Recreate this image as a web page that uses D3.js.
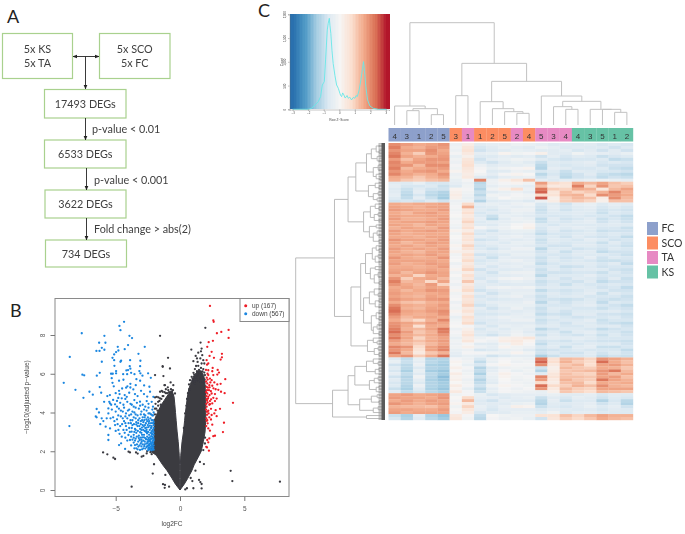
<!DOCTYPE html>
<html><head><meta charset="utf-8">
<script src="https://cdnjs.cloudflare.com/ajax/libs/d3/7.8.5/d3.min.js"></script>
<style>html,body{margin:0;padding:0;background:#fff}svg{display:block}</style></head>
<body><svg id="c" width="685" height="534"></svg>
<script>
// ---------- Panel A ----------
const flowLabels = [["5x KS","5x TA"],["5x SCO","5x FC"],["17493 DEGs"],["6533 DEGs"],["3622 DEGs"],["734 DEGs"]];
const filterLabels = ["p-value < 0.01","p-value < 0.001","Fold change > abs(2)"];

// ---------- Panel B (log2FC, -log10 adjusted p) ----------
const wingLevels = [0,0.3,0.6,1,1.3,1.8,2,2.5,3,3.6,4,4.4,4.8,5.1];
const leftOuter  = [0,-0.35,-0.62,-1,-1.35,-1.85,-2.3,-2.0,-2.0,-2.0,-1.75,-1.45,-1.05,-0.75];
const leftInner  = [0,-0.02,-0.03,-0.03,-0.03,-0.06,-0.08,-0.14,-0.22,-0.3,-0.35,-0.4,-0.46,-0.6];
const rightLevels = [0,0.3,0.6,1,1.3,1.8,2,2.5,3,3.6,4,4.4,4.8,5.2,5.6,5.9,6.15];
const rightOuter = [0,0.33,0.6,0.92,1.1,1.5,1.65,1.82,1.95,2,2,2,2,1.97,1.93,1.85,1.65];
const rightInner = [0,0.02,0.03,0.03,0.03,0.06,0.09,0.16,0.27,0.36,0.42,0.5,0.57,0.68,0.88,1.08,1.4];
const upPoints = [[2.33,9.5],[2.59,8.76],[2.62,8.68],[3.78,8.26],[3.21,8.16],[2.87,8.09],[3.78,7.85],[2.56,7.7],[2.23,7.63],[2.12,7.39],[2.46,7.13],[3.26,7.03],[2.3,6.92],[2.64,6.82],[3.26,6.85],[3.16,6.73],[2.2,6.53],[2.1,6.47],[2.54,6.3],[2.93,6.2],[2.2,6.18],[2.51,6.13],[3.03,6.06],[2.2,5.93],[2.59,5.93],[2.9,5.96],[3.52,5.72],[2.33,5.75],[2.46,5.67],[2.67,5.55],[2.12,5.5],[2.9,5.45],[3.16,5.48],[2.28,5.41],[2.51,5.38],[2.07,5.32],[2.77,5.2],[2.25,5.15],[2.98,5.17],[3.47,5],[3.19,5.07],[2.12,4.98],[2.46,4.98],[2.72,4.95],[2.2,4.81],[2.59,4.76],[2.85,4.72],[2.07,4.69],[2.33,4.59],[2.72,4.59],[4.12,4.5],[2.15,4.52],[2.51,4.47],[2.28,4.4],[2.07,4.3],[2.41,4.19],[2.77,4.12],[2.2,4.09],[3.11,4.19],[2.67,3.95],[2.1,3.88],[2.28,3.75],[2.41,3.64],[2.07,3.57],[3.42,3.47],[2.51,3.37],[2.04,3.3],[2.2,3.18],[2.33,3.06],[3.34,2.99],[2.72,2.8],[2.59,2.78],[2.28,2.66],[2.12,2.58],[2.2,2.46],[2.04,2.23],[2.25,2.03],[2.1,2.2],[2.46,3.87],[2.1,4.04],[2.33,4.43],[2.85,3.81],[2.15,3.44],[2.03,5.05],[2.06,4.85],[2.1,4.62],[2.17,5.28],[2.03,5.6],[2.08,5.8],[2.14,6.0],[2.4,5.1],[2.6,5.25],[2.3,4.9],[2.02,4.15],[2.05,3.7],[2.12,3.6],[2.22,3.95],[2.36,5.55],[2.02,6.2],[2.07,6.7],[2.05,4.45],[2.18,4.72],[2.1,5.15],[2.15,5.7],[2.3,5.3],[2.42,4.68]];
const downPoints = [[-4.35,8.68],[-4.71,8.47],[-4.63,8.25],[-7.64,8.09],[-5.88,7.96],[-3.93,7.96],[-3.73,7.84],[-6.29,7.6],[-5.8,7.6],[-4.04,7.48],[-4.84,7.39],[-2.74,7.39],[-6.08,7.34],[-5.88,7.24],[-6.5,7.18],[-6.26,7.18],[-4.79,7.2],[-4.3,7.27],[-4.97,7.12],[-5.12,7],[-8.57,6.87],[-5.25,6.82],[-3.23,7.03],[-5.12,6.7],[-4.58,6.67],[-4.63,6.62],[-6.08,6.62],[-3.88,6.7],[-3.08,6.67],[-5.1,6.41],[-3.91,6.39],[-3.1,6.39],[-4.04,6.19],[-4.17,6.17],[-3.86,6.26],[-4.97,6.14],[-3.16,6.14],[-6.24,6.05],[-7.59,5.95],[-6.47,5.9],[-5.36,6],[-5.23,6],[-4.97,6.02],[-4.42,5.98],[-4.11,5.98],[-3.8,6.05],[-3.54,5.98],[-3.08,6.02],[-2.92,5.9],[-2.48,6.02],[-2.27,5.79],[-5.31,5.77],[-3.39,5.72],[-4.74,5.64],[-4.4,5.69],[-5.25,5.53],[-3.1,5.64],[-9.04,5.53],[-3.86,5.48],[-5.15,5.35],[-4.09,5.35],[-6.24,5.31],[-3.44,5.41],[-2.79,5.4],[-2.38,5.33],[-4.5,5.24],[-4.19,5.28],[-3.86,5.29],[-3.63,5.19],[-8.13,5.17],[-4.74,5.12],[-7.04,5.07],[-6.13,5.02],[-3.03,5.12],[-2.33,5.07],[-6.78,4.92],[-5.45,4.9],[-5.0,5.0],[-4.7,4.95],[-4.3,4.9],[-3.95,5.02],[-3.5,4.95],[-3.3,4.85],[-2.8,4.95],[-2.55,4.82],[-7.51,4.76],[-6.48,4.18],[-6.55,3.8],[-6.48,3.75],[-6.09,3.7],[-5.57,4.21],[-5.44,4.47],[-5.05,4.42],[-4.53,4.73],[-4.14,4.81],[-3.55,4.64],[-3.11,4.56],[-2.59,4.59],[-2.07,4.81],[-5.57,3.95],[-5.7,3.7],[-5.96,3.56],[-5.78,3.27],[-5.44,3.18],[-5.57,2.84],[-5.57,2.58],[-4.74,2.32],[-4.58,2.41],[-4.27,2.12],[-5.05,3.35],[-4.79,3.1],[-4.53,2.75],[-4.01,2.84],[-3.76,3.01],[-3.89,2.58],[-3.5,2.32],[-3.55,2.15],[-3.24,2.24],[-3.11,2.07],[-2.98,2.49],[-8.6,3.3],[-7.45,5.92],[-5.9,4.55],[-5.5,4.55],[-5.2,4.65],[-4.9,4.6],[-4.65,4.5],[-4.4,4.4],[-4.1,4.55],[-3.85,4.45],[-3.6,4.3],[-3.35,4.5],[-2.9,4.4],[-2.7,4.3],[-2.45,4.45],[-2.2,4.55],[-5.3,4.15],[-5.0,4.05],[-4.75,4.2],[-4.45,4.05],[-4.2,3.95],[-3.95,4.15],[-3.7,4.05],[-3.45,3.9],[-3.2,4.2],[-3,4.05],[-2.8,3.9],[-2.6,4.1],[-2.35,3.95],[-2.15,4.15],[-5.2,3.75],[-4.9,3.65],[-4.6,3.8],[-4.35,3.55],[-4.1,3.7],[-3.85,3.6],[-3.6,3.75],[-3.4,3.5],[-3.15,3.7],[-2.95,3.6],[-2.75,3.75],[-2.55,3.55],[-2.3,3.7],[-2.1,3.6],[-5.0,3.05],[-4.65,3.3],[-4.4,3.1],[-4.2,3.3],[-3.95,3.2],[-3.7,3.35],[-3.5,3.15],[-3.3,3.3],[-3.1,3.15],[-2.9,3.35],[-2.7,3.2],[-2.5,3.35],[-2.25,3.2],[-2.05,3.35],[-3.6,2.85],[-3.4,2.95],[-3.2,2.8],[-3,2.95],[-2.8,2.85],[-2.6,2.98],[-2.4,2.85],[-2.2,3.0],[-2.05,2.85],[-3.7,2.6],[-3.45,2.65],[-3.25,2.5],[-3.05,2.7],[-2.85,2.55],[-2.7,2.68],[-2.5,2.6],[-2.35,2.72],[-2.18,2.65],[-2.05,2.55],[-3.3,2.1],[-3,2.25],[-2.85,2.15],[-2.75,2.35],[-2.6,2.22],[-2.5,2.42],[-2.4,2.08],[-2.4,2.3],[-2.3,2.5],[-2.3,2.15],[-2.2,2.35],[-2.2,2.05],[-2.12,2.2],[-2.12,2.45],[-2.05,2.08],[-2.05,2.3],[-2.5,2.05],[-2.42,2.2],[-2.32,2.4],[-2.25,2.25],[-2.15,2.12],[-2.08,2.42],[-2.28,2.62],[-2.15,2.75],[-2.42,2.52],[-2.55,2.75],[-2.08,2.7],[-2.2,2.9],[-2.1,3.1],[-2.35,3.1],[-2.6,3.1],[-2.05,3.5],[-2.15,3.85],[-2.25,3.45],[-2.45,3.65],[-2.65,3.45],[-2.85,3.5],[-3.05,3.4],[-3.25,3.45],[-2.45,3.25],[-2.75,3.05],[-3,3.1],[-2.05,4.0],
[-2.08,2.18],[-2.18,2.28],[-2.28,2.08],[-2.36,2.18],[-2.46,2.14],[-2.14,2.52],[-2.24,2.42],[-2.36,2.36],[-2.46,2.32],[-2.54,2.26],[-2.62,2.4],[-2.7,2.14],[-2.78,2.26],[-2.9,2.36],[-2.95,2.1],[-3.05,2.4],[-3.15,2.3],[-3.35,2.35],[-3.4,2.15],[-3.6,2.45],[-3.8,2.3],[-2.06,2.62],[-2.14,2.88],[-2.24,2.78],[-2.34,2.58],[-2.44,2.68],[-2.52,2.5],[-2.64,2.62],[-2.74,2.5],[-2.8,2.72],[-2.92,2.72],[-3.0,2.6],[-3.14,2.58],[-3.2,2.68],[-3.36,2.75],[-3.5,2.55],[-3.6,2.7],[-3.8,2.75],[-4.1,2.55],[-4.25,2.7],[-2.06,2.98],[-2.16,3.06],[-2.3,2.95],[-2.48,3.0],[-2.56,2.92],[-2.68,3.02],[-2.86,3.1],[-2.95,2.85],[-3.1,2.98],[-3.28,3.05],[-3.45,3.1],[-3.55,3.0],[-3.75,3.2],[-3.9,3.0],[-4.15,3.1],[-4.3,2.95],[-4.7,2.9],[-2.06,3.2],[-2.2,3.3],[-2.34,3.32],[-2.42,3.45],[-2.58,3.22],[-2.72,3.35],[-2.82,3.28],[-2.96,3.22],[-3.16,3.3],[-3.4,3.38],[-3.58,3.4],[-3.82,3.45],[-4.0,3.45],[-4.25,3.45],[-4.5,3.4],[-4.85,3.4],[-2.1,3.45],[-2.2,3.6],[-2.4,3.55],[-2.5,3.75],[-2.62,3.65],[-2.78,3.6],[-2.9,3.75],[-3.05,3.55],[-3.25,3.6],[-3.45,3.7],[-3.7,3.6],[-3.95,3.85],[-4.25,3.8],[-4.45,3.7],[-4.8,3.85],[-5.1,3.55],[-2.1,3.85],[-2.25,3.9],[-2.45,3.95],[-2.7,3.85],[-3.05,3.9],[-3.3,3.85],[-3.55,4.0],[-3.8,3.9],[-4.05,4.1],[-4.35,4.25],[-4.6,4.1],[-4.9,4.3],[-5.4,3.7],[-5.35,4.4],[-2.1,4.3],[-2.45,4.25],[-2.8,4.15],[-3.1,4.35],[-3.45,4.25],[-3.75,4.4],[-4.25,4.7],[-4.8,4.75],[-5.65,4.85],[-6.3,4.0],[-6.2,3.4]];
const otherPoints = [[1.97,8.37],[1.6,7.61],[0.88,7.25],[1.68,7.3],[1.63,7.16],[1.42,7.09],[1.22,6.92],[1.73,6.96],[1.32,6.79],[1.58,6.79],[1.81,6.7],[1.37,6.61],[1.04,6.65],[1.68,6.53],[1.89,6.53],[1.42,6.41],[1.63,6.3],[1.16,6.24],[1.81,6.24],[1.32,6.13],[1.55,6.06],[1.89,6.06],[1.11,5.96],[1.37,5.93],[1.68,5.93],[1.94,5.93],[0.91,5.84],[1.22,5.79],[1.53,5.75],[1.81,5.75],[0.78,5.67],[1.04,5.62],[1.29,5.58],[1.63,5.55],[1.89,5.55],[0.7,5.45],[1.25,6.4],[1.48,6.2],[1.05,6.05],[1.75,6.12],[1.5,5.95],[0.98,5.75],[1.15,5.5],[1.42,5.72],[1.72,5.78],[1.92,5.7],[1.98,5.35],[0.72,5.2],[0.62,5.0],[0.55,4.7],[0.5,4.35],[0.4,3.95],[0.3,3.2],[3.94,0.99],[4.07,0.46],[7.77,0.43],[1.86,1.34],[1.48,0.52],[1.58,0.41],[0.83,0.62],[0.96,0.46],[1.68,0.31],[0.54,0.09],[0.41,0.03],[1.04,0.09],[1.68,0.08],[1.94,2.4],[1.81,2.06],[1.95,2.7],[1.55,1.45],[1.2,1.0],
[-5.98,1.94],[-5.65,1.84],[-5.18,1.67],[-5.05,1.6],[-4,1.98],[-3.89,1.94],[-3.42,1.94],[-3.29,1.88],[-2.85,1.76],[-2.98,1.72],[-2.59,1.89],[-2.02,1.33],[-2.12,0.85],[-1.14,0.78],[-3.76,0.17],[-1.32,0.3],[-1.19,0.11],[-0.85,0.17],[-1.17,0.26],[-1.55,7.96],[-1.34,6.36],[-1.94,5.93],[-1.29,5.88],[-1.42,5.12],[-1.21,5.41],[-1.68,4.78],[-1.29,4.85],[-1.94,4.78],[-1.55,4.73],[-0.93,6.82],[-0.78,6.27],[-1.35,6.39],[-0.73,5.55],[-1.17,5.41],[-0.52,5.41],[-0.91,5.15],[-0.64,5.07],[-1.35,5.07],[-1.55,5.07],[-0.39,4.98],[-0.57,4.9],[-1.81,4.81],[-0.78,4.81],[-1.1,5.2],[-1.0,5.0],[-1.7,4.55],[-1.9,4.45],[-1.95,4.2],[-2.3,1.95],[-2.55,2.0],[-2.2,1.85],[-1.85,4.2],[-1.7,4.35],[-1.6,4.6],[-1.45,4.7],[-1.2,5.05],[-0.95,5.3],[-0.7,5.2],[-0.55,5.15],[-1.5,4.4],[-1.75,4.1],[-1.35,4.85],[-1.1,5.0],[-0.85,5.05],[-1.95,3.9]];
const volcanoLegend = ["up (167)","down (567)"];

// ---------- Panel C : heat map ----------
const groupNames = ["FC","SCO","TA","KS"];
const columnGroups = ["FC","FC","FC","FC","FC","SCO","TA","SCO","SCO","SCO","TA","SCO","TA","TA","TA","KS","KS","KS","KS","KS"];
const columnLabels = ["4","3","1","2","5","3","1","1","2","5","2","4","5","3","4","4","3","5","1","2"];
const histX = [-3,-1.99,-1.78,-1.56,-1.35,-1.2,-1.09,-0.96,-0.88,-0.77,-0.71,-0.64,-0.6,-0.54,-0.47,-0.39,-0.28,-0.17,-0.06,0.04,0.09,0.15,0.22,0.3,0.37,0.43,0.5,0.58,0.68,0.79,0.9,1.01,1.08,1.16,1.28,1.39,1.5,1.56,1.63,1.71,1.82,1.97,2.18,2.51,3.04];
const histCount = [0,0,21,91,161,267,512,583,1039,1671,1811,1916,1769,1594,1243,962,716,512,442,337,290,267,345,302,240,253,290,232,255,197,250,232,290,267,407,618,863,1004,793,477,197,70,21,0,0];
// merge trees: [height, left, right]; a number is a leaf holding that many rows/columns
const colTree = [307,[57,1,[49,[43,1,1],[31,1,1]]],[185,[88,1,1],[131,[70,1,[49,1,[40,1,[35,1,1]]]],[87,1,[71,[55,1,[47,1,1]],[47,1,[47,1,[38,1,1]]]]]]]];
const rowClusterA = [16,[11,[6,2,[3,1,1]],[5,1,2]],[9,[4,1,2],[6,1,[2,1,1]]]];
const rowClusterB = [14,[7,1,[3,1,1]],[9,[4,1,1],[5,1,1]]];
const rowClusterC1 = [19,[12,[7,1,[3,1,1]],[8,[4,1,1],2]],[13,[6,1,1],[9,[5,1,2],[3,1,1]]]];
const rowClusterC2 = [17,[10,[6,1,[3,1,1]],[7,[4,1,1],2]],[12,[7,1,1],[8,[4,1,2],[3,1,1]]]];
const rowClusterC3 = [19,[13,[8,2,[4,1,1]],[7,[3,1,1],2]],[11,[6,2,[3,1,1]],[9,[5,2,1],[3,1,1]]]];
const rowClusterC4 = [15,[9,1,[5,1,1]],[8,[4,1,1],[3,1,1]]];
const rowClusterD = [28,[16,[9,1,[4,1,1]],[7,[3,1,1],1]],[13,[8,[4,1,1],1],[6,[3,1,1],1]]];
const rowClusterE = [23,[11,[5,1,1],[3,1,1]],[9,[4,1,1],1]];
const rowClusterF = [16,1,1];
const rowTree = [89,[49,[35,[27,rowClusterA,rowClusterB],rowClusterC1],[32,[22,rowClusterC2,rowClusterC3],rowClusterC4]],[51,[35,rowClusterD,rowClusterE],rowClusterF]];
// z-scores x10, one row per line, columns in dendrogram order
const rowsA = [
[19,17,15,16,18,-3,3,-6,-5,-5,-3,-4,-5,-7,-6,-7,-6,-8,-7,-8],
[21,15,14,17,17,-2,5,-8,-6,-4,-5,-6,-3,-5,-7,-6,-7,-7,-9,-7],
[18,16,16,19,15,-3,6,-9,-7,-6,-4,-5,-6,-6,-5,-8,-6,-9,-6,-9],
[20,14,10,18,16,-1,4,-5,-4,1,-2,-1,2,-6,-6,-2,-5,-5,-6,-4],
[22,16,14,15,17,-4,2,-7,-7,-5,-6,-5,-9,-5,-8,-6,-7,-10,-8,-7],
[17,12,16,18,18,-2,5,-9,-5,-4,-2,-3,-6,-8,-9,-8,-8,-7,-11,-10],
[20,15,17,17,16,-3,6,-7,-9,-6,-4,-6,-10,-6,-7,-6,-5,-8,-7,-8],
[19,18,13,19,19,-1,7,-3,-6,-5,-5,-4,-12,-7,-8,-7,-6,-9,-9,-9],
[21,13,15,16,17,-2,5,-1,-4,-2,-1,1,-13,-5,-6,-8,-8,-7,-10,-11],
[18,15,17,18,15,1,4,0,-7,-6,-3,-4,-8,-7,-10,-6,-7,-8,-8,-9],
[20,16,14,15,18,-3,3,-2,-5,-1,1,0,-12,-8,-11,-9,-6,-10,-11,-12],
[15,14,11,14,16,-2,4,-6,-8,-5,-4,-3,-9,-6,-12,-9,-8,-11,-9,-10],
[14,11,10,12,13,-4,-1,20,-3,2,5,12,-5,-7,-5,-5,-4,-3,-4,-5]];
const rowsB = [
[-6,-7,-4,-8,-8,-5,-3,-12,-3,-1,1,-2,17,8,6,15,13,16,12,10],
[-5,-8,-8,-7,-10,-7,-2,-11,-5,-3,-4,-5,12,4,5,21,9,18,11,12],
[-7,-10,-6,-9,-9,1,-1,-13,-2,2,7,-3,22,10,9,15,14,5,13,16],
[-6,-11,-5,-11,-13,2,-2,-10,-6,-4,-3,-5,24,5,12,9,11,14,20,14],
[-5,-12,-8,-12,-14,3,-3,-12,-2,-3,-1,-2,8,6,13,14,8,19,17,15],
[-7,-11,-5,-10,-15,2,-4,-9,-4,0,-2,-3,25,2,10,13,12,3,19,13],
[-9,-8,-9,-7,-9,-3,-3,-13,-7,-6,-5,-7,-3,3,10,11,9,2,12,12]];
const rowsC = [
[15,14,15,15,16,-2,8,-5,-4,-5,-3,-2,-8,-6,-9,-5,-4,-7,-5,-6],
[16,15,14,16,16,-1,14,-7,-6,-4,-5,-4,-9,-5,-8,-6,-5,-8,-6,-8],
[17,16,15,15,17,-2,5,-6,-8,-5,-3,-3,-10,-6,-9,-7,-6,-9,-8,-9],
[15,13,16,17,15,-1,7,-8,-6,-6,-4,-5,-9,-7,-7,-6,-7,-10,-7,-8],
[16,15,15,16,16,0,4,-7,-10,-4,-5,-6,-8,-8,-8,-7,-8,-8,-9,-11],
[17,14,14,15,17,-2,6,-5,-12,-6,-3,-4,-11,-6,-9,-8,-6,-10,-8,-10],
[15,16,16,17,16,-1,9,-7,-5,-5,-4,-3,-10,-7,-8,-6,-5,-9,-7,-9],
[16,15,13,16,15,-2,5,-6,-7,-4,-1,1,-7,-8,-6,-7,-7,-7,-6,-7],
[14,16,15,14,17,-3,7,-1,-4,-3,0,2,-8,-5,-7,-5,-6,-8,-8,-10],
[17,15,16,17,16,1,3,-7,-9,-5,-4,-4,-9,-6,-9,-8,-7,-10,-9,-9],
[16,14,15,15,15,-2,8,-8,-6,-6,-5,-6,-11,-8,-8,-7,-6,-8,-7,-8],
[15,15,14,16,16,0,5,-5,-7,-4,-3,-5,-8,-7,-9,-6,-8,-9,-8,-11],
[18,16,16,15,17,-1,6,-9,-8,-5,-6,-5,-10,-6,-7,-8,-5,-7,-9,-8],
[16,13,15,17,16,-2,4,-6,-5,-7,-4,-4,-9,-7,-8,-7,-7,-10,-6,-9],
[15,16,14,16,15,1,9,-8,-7,-5,-5,-6,-8,-9,-9,-6,-6,-8,-8,-10],
[17,15,16,15,17,-1,6,-7,-9,-6,-3,-3,-12,-7,-7,-9,-8,-9,-7,-8],
[16,14,13,16,16,2,3,-5,-6,-4,-5,-5,-9,-6,-10,-7,-6,-11,-9,-9],
[15,16,15,17,15,-2,7,-9,-8,-7,-4,-4,-8,-8,-8,-6,-7,-7,-8,-10],
[18,15,14,15,18,-1,5,-6,-10,-5,-6,-6,-10,-7,-9,-8,-5,-9,-7,-8],
[16,16,16,16,15,0,8,-8,-7,-4,-3,-5,-9,-6,-8,-7,-8,-10,-10,-9],
[17,14,15,17,16,-3,4,-7,-5,-6,-5,-4,-11,-8,-7,-6,-6,-8,-6,-11],
[15,15,14,15,17,-1,6,-5,-8,-5,-4,-6,-8,-7,-10,-9,-7,-9,-8,-8],
[16,16,15,16,15,1,9,-9,-6,-7,-6,-5,-10,-6,-8,-6,-6,-7,-9,-10],
[17,13,16,18,16,-2,3,-6,-9,-4,-3,-3,-9,-9,-9,-8,-8,-10,-7,-9],
[14,15,9,15,16,0,7,-7,-7,-6,-5,-4,-12,-7,-7,-7,-5,-8,-8,-8],
[18,10,15,16,13,-2,5,-8,-5,-2,-1,-3,-8,-6,-9,-6,-7,-9,-6,-10],
[21,13,14,8,16,-1,11,-5,-8,-5,-4,-5,-10,-8,-8,-9,-6,-11,-9,-9],
[18,15,13,17,9,-3,4,-6,-6,-7,-6,-6,-9,-7,-10,-7,-8,-8,-7,-8],
[15,16,14,16,15,-1,6,-7,-3,-2,-3,-2,-7,-6,-7,-6,-7,-9,-8,-11],
[16,13,15,18,17,1,8,-9,-7,-5,-5,-5,-11,-8,-9,-8,-6,-7,-9,-9],
[17,15,14,15,16,-2,3,-5,-9,-6,-4,-4,-8,-6,-8,-7,-5,-10,-6,-8],
[16,14,13,16,15,-1,7,-8,-6,-4,-3,-6,-10,-7,-7,-6,-8,-8,-8,-10],
[18,16,15,17,18,0,5,-6,-8,-7,-6,-5,-9,-9,-10,-9,-7,-9,-10,-9],
[15,12,11,14,15,-3,6,-7,-5,-5,-5,-3,-12,-7,-9,-7,-6,-11,-7,-8],
[19,15,14,15,17,-1,9,-9,-7,-4,-4,-4,-8,-8,-8,-6,-5,-8,-9,-11],
[22,14,13,16,16,-2,4,-5,-9,-6,-3,-6,-10,-6,-7,-8,-8,-10,-8,-9],
[23,16,15,17,19,1,6,-7,-6,-5,-6,-5,-9,-7,-9,-7,-7,-7,-6,-8],
[20,15,14,15,18,-1,3,-8,-8,-7,-5,-4,-11,-9,-10,-6,-6,-9,-9,-10],
[17,13,15,16,15,-4,7,-6,-5,-3,-4,-5,-8,-6,-8,-9,-8,-8,-7,-9],
[15,11,8,14,20,-2,5,-7,-7,-5,-3,-3,-10,-8,-7,-7,-5,-10,-8,-8],
[18,16,14,17,16,-1,8,-9,-6,-6,-6,-6,-9,-7,-9,-6,-7,-9,-10,-11],
[19,15,7,15,15,0,-1,-5,-8,-4,-5,-4,-7,-6,-8,-8,-6,-7,-6,-9],
[21,14,13,16,22,-3,2,-8,-5,-7,-4,-5,-12,-9,-7,-7,-8,-11,-9,-8],
[23,17,11,14,21,-1,4,-6,-7,-5,-3,-6,-8,-7,-10,-6,-5,-8,-8,-10],
[19,15,13,15,18,-2,6,-7,-9,-6,-2,-4,-10,-6,-8,-9,-7,-10,-7,-9],
[22,16,9,14,16,-4,3,-3,-1,2,3,5,-6,-5,-6,-5,-6,-8,-8,-8],
[17,14,12,15,17,-2,5,-1,-3,3,4,1,-9,-8,-9,-7,-8,-9,-9,-10],
[15,13,10,13,16,-3,-1,-6,-6,-2,3,-1,-11,-7,-7,-8,-6,-7,-6,-9],
[20,18,8,16,19,-2,2,-3,-5,1,-2,-3,-8,-6,-10,-6,-5,-10,-10,-8],
[18,15,6,16,20,-4,-3,-8,-7,-4,-3,-6,-10,-9,-8,-7,-8,-8,-8,-11],
[22,13,4,11,14,-5,-1,-1,-2,-3,1,-2,-9,-7,-9,-9,-6,-9,-7,-9],
[16,18,10,15,22,-6,-4,-5,-9,-7,-5,-5,-14,-10,-8,-8,-7,-11,-9,-10]];
const rowsD = [
[-7,-11,-4,-13,-13,-1,-3,-8,-3,-1,-2,-3,21,6,13,12,9,18,16,14],
[-4,-10,-5,-12,-14,1,-2,-11,-4,0,-3,-2,24,7,14,10,8,23,15,12],
[-9,-12,-3,-14,-15,0,-4,-8,-1,1,-1,-1,19,4,11,13,7,16,17,14],
[-6,-12,-7,-13,-14,2,-1,-13,-6,-3,-2,-3,-9,2,13,11,10,15,14,11],
[-8,-14,-4,-15,-16,0,-3,-11,-5,-1,-4,-2,-13,3,11,12,13,18,22,13],
[-5,-11,-6,-12,-15,3,-2,-14,-3,2,-1,-3,-6,5,12,10,9,17,13,15],
[-9,-13,-2,-13,-17,1,-1,-10,-4,1,-2,-1,20,6,12,12,11,16,17,12],
[-6,-12,-5,-14,-16,2,-3,-13,-5,0,-3,-2,17,4,14,11,10,22,16,14],
[-8,-12,-7,-13,-15,0,-2,-11,-6,-1,-2,-3,8,3,12,13,8,15,14,15],
[-7,-13,-3,-13,-15,3,-1,-9,-2,1,-1,-2,23,8,10,14,12,19,14,13],
[-10,-14,-6,-14,-16,1,-4,-12,-5,-1,-3,-1,18,4,13,10,9,16,16,16],
[-6,-11,-8,-12,-14,4,-1,-10,-4,-1,-2,-3,-4,2,11,9,7,13,12,11]];
const rowsE = [
[16,17,15,16,17,-2,-1,-4,-8,-6,-5,-5,-5,-4,-6,-6,-5,-8,-6,-7],
[17,16,16,15,18,0,8,-5,-5,-7,-5,-4,-10,-6,-8,-5,-6,-9,-7,-8],
[15,17,15,17,16,-1,13,-7,-9,-5,-6,-6,-12,-5,-10,-7,-7,-13,-8,-12],
[18,16,14,16,17,1,4,-6,-6,-6,-4,-3,-13,-6,-7,-6,-5,-9,-7,-13],
[14,13,13,12,15,-2,9,-4,-7,-4,2,1,-10,-7,-8,-6,-4,-7,-5,-9],
[16,16,15,15,17,0,5,-5,-8,-5,-5,-5,-7,-5,-6,-7,-6,-8,-6,-7],
[17,15,16,16,16,-1,3,-8,-6,-6,-4,-4,-5,-2,-7,-5,-5,-7,-7,-7]];
const rowsF = [
[-10,-14,-5,-13,-16,4,-1,-11,0,-2,-3,-3,6,6,12,9,13,16,14,14],
[-8,-13,-6,-12,-15,5,-2,-12,-1,-3,-2,-4,-9,5,10,8,11,15,13,12]];
const heatRows = rowsA.concat(rowsB, rowsC, rowsD, rowsE, rowsF);

// ---------- colours ----------
const rdbu = ["#2a70ae","#4f9ac6","#a5cde2","#dce9f2","#f6f5f4","#fbdfcf","#f2ab8c","#dc7458","#b2182b"];
const heatColor = d3.scaleLinear().domain(d3.range(-3,3.01,0.75)).range(rdbu).clamp(true);
const groupColor = d3.scaleOrdinal(groupNames,["#8da0cb","#fc8d62","#e78ac3","#66c2a5"]);

const svg = d3.select("#c");
const defs = svg.append("defs");
defs.append("filter").attr("id","soft").attr("x","-5%").attr("y","-5%").attr("width","110%").attr("height","110%").append("feGaussianBlur").attr("stdDeviation",0.35);
defs.append("filter").attr("id","softer").attr("x","-5%").attr("y","-5%").attr("width","110%").attr("height","110%").append("feGaussianBlur").attr("stdDeviation",0.6);
const sans = "'Liberation Sans',Arial,sans-serif", flowFont = "Lato,'Open Sans',sans-serif";
const panel = (t,x,y)=>svg.append("text").attr("x",x).attr("y",y).attr("font-family",flowFont).attr("font-size",18).attr("fill","#222").text(t);
panel("A",7,23); panel("B",10,317); panel("C",258,17);

// ---------- A ----------
const boxes=[[2.5,33.5,70,45],[99.5,33.5,70.5,45],[44.5,89.5,81.5,28.5],[44.5,140,81.5,28],[45,190,81,28],[45.5,240,81,27]];
const gA=svg.append("g").attr("filter","url(#soft)");
defs.append("marker").attr("id","ah").attr("viewBox","0 0 6 6").attr("refX",5.5).attr("refY",3)
 .attr("markerWidth",5).attr("markerHeight",5).attr("orient","auto-start-reverse")
 .append("path").attr("d","M0,0.5L6,3L0,5.5Z").attr("fill","#222");
boxes.forEach((b,i)=>{
 gA.append("rect").attr("x",b[0]).attr("y",b[1]).attr("width",b[2]).attr("height",b[3])
  .attr("fill","#fff").attr("stroke","#a9d18e").attr("stroke-width",1.2);
 const L=flowLabels[i];
 L.forEach((t,j)=>gA.append("text").attr("x",b[0]+b[2]/2).attr("y",b[1]+b[3]/2+4+(j-(L.length-1)/2)*14)
  .attr("text-anchor","middle").attr("font-family",flowFont).attr("font-size",10.8).attr("fill","#404040").text(t));
});
const arrow=(x1,y1,x2,y2,both)=>{const l=gA.append("line").attr("x1",x1).attr("y1",y1).attr("x2",x2).attr("y2",y2)
  .attr("stroke","#222").attr("stroke-width",0.9).attr("marker-end","url(#ah)"); if(both)l.attr("marker-start","url(#ah)");};
arrow(73,56.5,99,56.5,true); arrow(85.5,56.5,85.5,89);
arrow(85.5,118,85.5,140); arrow(86.5,168,86.5,190); arrow(86.5,218,86.5,240);
[[92,129],[94,179.5],[94,229]].forEach((p,i)=>gA.append("text").attr("x",p[0]).attr("y",p[1]+4)
  .attr("font-family",flowFont).attr("font-size",10.8).attr("fill","#404040").text(filterLabels[i]));

// ---------- B ----------
const vx=d3.scaleLinear().domain([-5,5]).range([115.7,244.3]);
const vy=d3.scaleLinear().domain([0,8]).range([490,335]);
const gB=svg.append("g").attr("filter","url(#soft)");
const area=d3.area().y(d=>vy(d[0])).x0(d=>vx(d[1])).x1(d=>vx(d[2]));
gB.append("path").attr("d",area(wingLevels.map((l,i)=>[l,leftOuter[i],leftInner[i]]))).attr("fill","#3a3a40").attr("stroke","#3a3a40").attr("stroke-width",1);
gB.append("path").attr("d",area(rightLevels.map((l,i)=>[l,rightOuter[i],rightInner[i]]))).attr("fill","#3a3a40").attr("stroke","#3a3a40").attr("stroke-width",1);
const dots=(pts,c)=>gB.append("g").selectAll("circle").data(pts).join("circle")
  .attr("cx",d=>vx(d[0])).attr("cy",d=>vy(d[1])).attr("r",1.15).attr("fill",c);
dots(otherPoints,"#3a3a40"); dots(downPoints,"#1a86e0"); dots(upPoints,"#ee1c25");
gB.append("rect").attr("x",55).attr("y",298.5).attr("width",234).attr("height",198).attr("fill","none").attr("stroke","#8a8a8a").attr("stroke-width",1);
const xA=d3.axisBottom(vx).tickValues([-5,0,5]).tickSize(4.5).tickPadding(5).tickFormat(d=>d<0?"\u2212"+(-d):d);
const yA=d3.axisLeft(vy).tickValues([0,2,4,6,8]).tickSize(4.5);
const gx=gB.append("g").attr("transform","translate(0,496.5)").call(xA);
const gy=gB.append("g").attr("transform","translate(55,0)").call(yA);
[gx,gy].forEach(g=>{g.select(".domain").remove();g.selectAll("line").attr("stroke","#777");
 g.selectAll("text").attr("font-family",sans).attr("font-size",6.5).attr("fill","#555");});
gy.selectAll("text").attr("text-anchor","middle").attr("x",-10).attr("dy",0).attr("transform","rotate(-90,-10,0)");
gB.append("text").attr("x",172).attr("y",526).attr("text-anchor","middle").attr("font-family",sans).attr("font-size",6.5).attr("fill","#444").text("log2FC");
gB.append("text").attr("transform","translate(29,397) rotate(-90)").attr("text-anchor","middle").attr("font-family",sans).attr("font-size",6.5).attr("fill","#444").text("\u2212log10(adjusted p\u2212value)");
gB.append("rect").attr("x",240).attr("y",298.5).attr("width",49).attr("height",23).attr("fill","#fff").attr("stroke","#8a8a8a");
volcanoLegend.forEach((t,i)=>{const y=305.7+i*8;
 gB.append("circle").attr("cx",245.7).attr("cy",y).attr("r",1.5).attr("fill",i?"#1a86e0":"#ee1c25");
 gB.append("text").attr("x",252).attr("y",y+2.3).attr("font-family",sans).attr("font-size",6.5).attr("fill","#444").text(t);});

// ---------- colour key ----------
const kx=d3.scaleLinear().domain([-3.2,3.2]).range([289.5,389]);
const ky=d3.scaleLinear().domain([0,2000]).range([109.3,14.3]);
const gK=svg.append("g").attr("filter","url(#soft)");
const keySteps=d3.range(-3.2,3.2,0.1);
gK.append("g").attr("shape-rendering","crispEdges").selectAll("rect").data(keySteps).join("rect").attr("x",d=>kx(d)).attr("y",ky(2000)).attr("width",d=>kx(d+0.1)-kx(d)+1)
  .attr("height",ky(0)-ky(2000)).attr("fill",d=>heatColor(d));
gK.append("path").attr("d",d3.line().x(d=>kx(d[0])).y(d=>ky(d[1]))(histX.map((x,i)=>[x,histCount[i]]))).attr("fill","none").attr("stroke","#68e8e8").attr("stroke-width",0.9);
const kxA=d3.axisBottom(kx).tickValues(d3.range(-3,3.1,1)).tickSize(1.5).tickPadding(1).tickFormat(d=>d<0?"\u2212"+(-d):d);
const kyA=d3.axisLeft(ky).tickValues([0,500,1000,1500,2000]).tickSize(1.5).tickPadding(1);
const kgx=gK.append("g").attr("transform","translate(0,109.5)").call(kxA);
const kgy=gK.append("g").attr("transform","translate(289.5,0)").call(kyA);
[kgx,kgy].forEach(g=>{g.selectAll("line").attr("stroke","#666").attr("stroke-width",0.4);g.select(".domain").attr("stroke","#666").attr("stroke-width",0.4);
 g.selectAll("text").attr("font-family",sans).attr("font-size",2.8).attr("fill","#444");});
kgy.selectAll("text").attr("text-anchor","middle").attr("x",-4).attr("dy",0).attr("transform","rotate(-90,-4,0)");
gK.append("text").attr("x",339).attr("y",120.5).attr("text-anchor","middle").attr("font-family",sans).attr("font-size",3.2).attr("fill","#444").text("Row Z\u2212Score");
gK.append("text").attr("transform","translate(283,62) rotate(-90)").attr("text-anchor","middle").attr("font-family",sans).attr("font-size",3.2).attr("fill","#444").text("Count");

// ---------- heat map ----------
const hx=d3.scaleBand().domain(d3.range(20)).range([388.5,633]);
const hy=d3.scaleBand().domain(d3.range(heatRows.length)).range([143,420]);
const gH=svg.append("g").attr("filter","url(#softer)");
gH.selectAll("g").data(heatRows).join("g").attr("transform",(d,i)=>`translate(0,${hy(i)})`)
 .selectAll("rect").data(d=>d).join("rect").attr("x",(d,j)=>hx(j)).attr("width",hx.bandwidth()+0.2).attr("height",hy.bandwidth()+0.2)
 .attr("fill",d=>heatColor(d/10));
const gBar=svg.append("g").attr("filter","url(#soft)");
gBar.append("g").selectAll("rect").data(columnGroups).join("rect").attr("x",(d,j)=>hx(j)).attr("y",128).attr("width",hx.bandwidth()+0.2).attr("height",13.5).attr("fill",d=>groupColor(d));
gBar.append("g").selectAll("text").data(columnLabels).join("text").attr("x",(d,j)=>hx(j)+hx.bandwidth()/2).attr("y",138.5)
  .attr("text-anchor","middle").attr("font-family",sans).attr("font-size",8).attr("fill","#333").text(d=>d);

// ---------- dendrograms ----------
function layoutTree(tree){
  const root=d3.hierarchy(tree,d=>Array.isArray(d)?d.slice(1):null);
  let pos=0;
  root.eachAfter(n=>{
    if(n.children){n.h=n.data[0];n.c=(n.children[0].c+n.children[1].c)/2;}
    else{n.h=0;n.n=n.data;n.c=pos+n.data*0.5;pos+=n.data;}
  });
  return root;
}
const colRoot=layoutTree(colTree);
const th=d3.scaleLinear().domain([0,307]).range([125,22.7]);
const tc=d3.scaleLinear().domain([0,20]).range([388.5,633]);
const gT=svg.append("g").attr("fill","none").attr("stroke","#c2c2c2").attr("stroke-width",1).attr("filter","url(#soft)");
colRoot.each(n=>{if(!n.children)return;const [a,b]=n.children;
 gT.append("path").attr("d",`M${tc(a.c)},${th(a.h)}V${th(n.h)}H${tc(b.c)}V${th(b.h)}`);});
const rowRoot=layoutTree(rowTree);
const rh=d3.scaleLinear().domain([0,89]).range([382,295.7]);
const rc=d3.scaleLinear().domain([0,heatRows.length]).range([143,420]);
const gR=svg.append("g").attr("fill","none").attr("stroke","#b4b4b4").attr("stroke-width",0.9).attr("filter","url(#soft)");
rowRoot.each(n=>{
 if(n.children){const [a,b]=n.children;
  gR.append("path").attr("d",`M${rh(a.h)},${rc(a.c)}H${rh(n.h)}V${rc(b.c)}H${rh(b.h)}`);}
 else if(n.n>1){gR.append("path").attr("d",`M${rh(3)},${rc(n.c-0.25*n.n)}V${rc(n.c+0.25*n.n)}`);}
});
gR.append("g").selectAll("line").data(d3.range(heatRows.length*2)).join("line")
  .attr("x1",378.5).attr("x2",382).attr("y1",d=>rc(d/2+0.25)).attr("y2",d=>rc(d/2+0.25)).attr("stroke","#777").attr("stroke-width",0.6);
gR.append("rect").attr("x",381.5).attr("y",143).attr("width",3.5).attr("height",277).attr("fill","#5a5a5a").attr("stroke","none");

// ---------- group legend ----------
const gL=svg.append("g").attr("filter","url(#soft)");
groupNames.forEach((g,i)=>{const y=222+i*14.5;
 gL.append("rect").attr("x",647).attr("y",y).attr("width",11).attr("height",13).attr("fill",groupColor(g));
 gL.append("text").attr("x",661.5).attr("y",y+10).attr("font-family",flowFont).attr("font-size",10.5).attr("fill","#333").text(g);});
</script></body></html>
